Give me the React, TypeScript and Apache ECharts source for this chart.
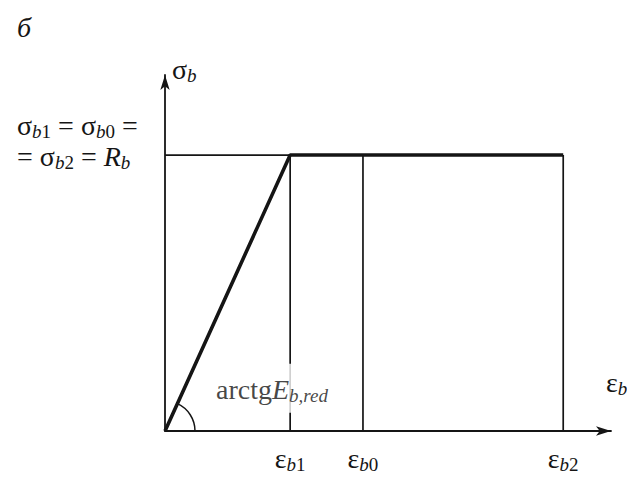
import { useEffect, useRef } from "react";
import * as echarts from "echarts";

// Two-line (bilinear) stress–strain diagram of concrete
const EPS_B1 = 1.1;
const EPS_B0 = 1.74;
const EPS_B2 = 3.5;
const R_B = 1;
const X_MAX = 3.92;
const Y_MAX = 1.29;

const STRAIN_TICKS = [EPS_B1, EPS_B0, EPS_B2];
const STRAIN_TICK_SUBS = ["1", "0", "2"];
const STRESS_TICKS = [R_B];

// working diagram points [ε, σ]
const DIAGRAM: number[][] = [
  [0, 0],
  [EPS_B1, R_B],
  [EPS_B2, R_B],
];

// thin guide segments [x1, y1, x2, y2]
const GUIDES: number[][] = [
  [0, R_B, EPS_B1, R_B],
  [EPS_B1, 0, EPS_B1, R_B],
  [EPS_B0, 0, EPS_B0, R_B],
  [EPS_B2, 0, EPS_B2, R_B],
];

// angle of the elastic branch: [origin ε, origin σ, ε, σ]
const ANGLE_ARC: number[][] = [[0, 0, EPS_B1, R_B]];
const ANGLE_LABEL_AT: number[][] = [[0.94, 0.155]];

const FONT = "Liberation Serif";
const INK = "#151515";

const rich = {
  m: { fontFamily: FONT, fontSize: 28, color: INK, lineHeight: 31 },
  mi: { fontFamily: FONT, fontSize: 28, fontStyle: "italic", color: INK, lineHeight: 31 },
  si: {
    fontFamily: FONT,
    fontSize: 19,
    fontStyle: "italic",
    color: INK,
    lineHeight: 18,
    verticalAlign: "bottom",
  },
  sn: {
    fontFamily: FONT,
    fontSize: 19,
    color: INK,
    lineHeight: 18,
    verticalAlign: "bottom",
  },
};

export default function App() {
  const ref = useRef<HTMLDivElement>(null);

  useEffect(() => {
    if (!ref.current) return;
    const chart = echarts.init(ref.current, null, { renderer: "svg" });

    const guideItem = (_p: any, api: any) => {
      const a = api.coord([api.value(0), api.value(1)]);
      const b = api.coord([api.value(2), api.value(3)]);
      return {
        type: "line",
        shape: { x1: a[0], y1: a[1], x2: b[0], y2: b[1] },
        style: { stroke: INK, lineWidth: 1.7 },
      };
    };

    const arcItem = (_p: any, api: any) => {
      const o = api.coord([api.value(0), api.value(1)]);
      const p = api.coord([api.value(2), api.value(3)]);
      const ang = Math.atan2(p[1] - o[1], p[0] - o[0]);
      return {
        type: "arc",
        shape: { cx: o[0], cy: o[1], r: 30, startAngle: ang, endAngle: 0, clockwise: true },
        style: { stroke: INK, lineWidth: 1.5, fill: "none" },
      };
    };

    chart.setOption({
      animation: false,
      backgroundColor: "#fff",
      title: {
        text: "б",
        left: 12,
        top: 8,
        textStyle: { fontFamily: FONT, fontStyle: "italic", fontWeight: "normal", fontSize: 28, color: INK },
      },
      grid: { left: 165, right: 24, top: 75, bottom: 54 },
      xAxis: {
        type: "value",
        min: 0,
        max: X_MAX,
        name: "{m|ε}{si|b}",
        nameLocation: "end",
        nameGap: -5,
        nameTextStyle: { align: "left", verticalAlign: "bottom", padding: [0, 0, 33, 0], rich },
        axisLine: {
          show: true,
          symbol: ["none", "arrow"],
          symbolSize: [7, 15],
          lineStyle: { color: INK, width: 1.8 },
        },
        axisTick: { show: false },
        splitLine: { show: false },
        axisLabel: {
          customValues: STRAIN_TICKS,
          margin: 12,
          formatter: (v: number) => {
            const i = STRAIN_TICKS.findIndex((t) => Math.abs(t - v) < 1e-6);
            return "{m|ε}{si|b}{sn|" + (STRAIN_TICK_SUBS[i] ?? "") + "}";
          },
          rich,
        },
      },
      yAxis: {
        type: "value",
        min: 0,
        max: Y_MAX,
        name: "{m|σ}{si|b}",
        nameLocation: "end",
        nameGap: 6,
        nameTextStyle: { align: "left", verticalAlign: "middle", padding: [0, 0, 0, 7], rich },
        axisLine: {
          show: true,
          symbol: ["none", "arrow"],
          symbolSize: [7, 15],
          lineStyle: { color: INK, width: 1.8 },
        },
        axisTick: { show: false },
        splitLine: { show: false },
        axisLabel: {
          customValues: STRESS_TICKS,
          margin: 148,
          align: "left",
          padding: [0, 0, 28, 0],
          formatter: () =>
            "{m|σ}{si|b}{sn|1}{m| = σ}{si|b}{sn|0}{m| =}\n{m|= σ}{si|b}{sn|2}{m| = }{mi|R}{si|b}",
          rich,
        },
      },
      series: [
        {
          type: "custom",
          renderItem: guideItem,
          data: GUIDES,
          encode: { x: [0, 2], y: [1, 3] },
          silent: true,
          z: 2,
        },
        {
          type: "line",
          data: DIAGRAM,
          symbol: "none",
          lineStyle: { color: INK, width: 3.6 },
          silent: true,
          z: 3,
        },
        {
          type: "custom",
          renderItem: arcItem,
          data: ANGLE_ARC,
          encode: { x: [0, 2], y: [1, 3] },
          silent: true,
          z: 3,
        },
        {
          type: "scatter",
          data: ANGLE_LABEL_AT,
          symbolSize: 1,
          itemStyle: { color: "rgba(0,0,0,0)" },
          silent: true,
          z: 5,
          label: {
            show: true,
            position: "inside",
            formatter: "{m|arctg}{mi|E}{si|b,red}",
            backgroundColor: "#fff",
            padding: [10, 2, 8, 2],
            rich,
          },
        },
      ],
    });

    return () => chart.dispose();
  }, []);

  return <div ref={ref} style={{ width: 635, height: 485, margin: -8 }} />;
}
